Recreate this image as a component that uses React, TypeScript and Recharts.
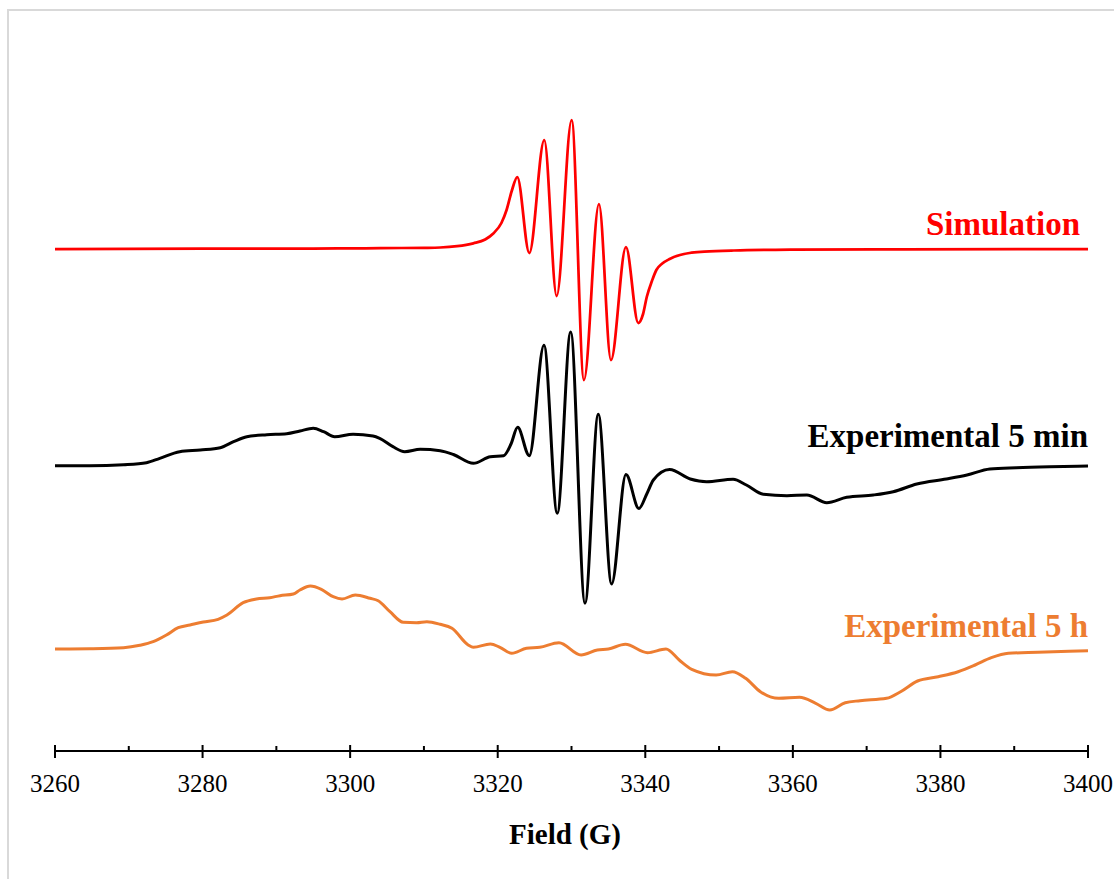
import React from "react";
import { LineChart, Line, XAxis, YAxis } from "recharts";

// Field positions (G) and first-derivative signal (a.u., relative to each trace's baseline)
const simField = [
  3260, 3280, 3295, 3302, 3307, 3310, 3312.2, 3314.5, 3316.7, 3318.3, 3319.4,
  3320.5, 3321.2, 3321.9, 3322.65, 3324.28, 3326.31, 3327.99, 3330.02, 3331.69,
  3333.72, 3335.35, 3337.38, 3339.05, 3339.7, 3340.2, 3340.9, 3341.5, 3342.3,
  3343.3, 3344.7, 3346, 3348, 3352, 3360, 3375, 3400,
];
const simSignal = [
  0, 0.3, 0.5, 0.7, 1.0, 1.2, 1.5, 2.8, 5.7, 9.5, 15.5, 26, 39, 58, 72, -4, 109,
  -47, 129, -131, 45, -111, 2, -74, -65, -48, -32, -21, -14.5, -10, -6, -4,
  -2.7, -1.5, -0.7, -0.3, 0,
];

const min5Field = [
  3260, 3264.7, 3269.3, 3272.4, 3274.2, 3276.9, 3279.7, 3282.4, 3284.2, 3286.0,
  3288.7, 3291.4, 3293.2, 3295.0, 3296.4, 3297.9, 3300.4, 3303.1, 3304.0,
  3305.8, 3307.4, 3309.5, 3312.2, 3314.0, 3316.7, 3319.0, 3320.8, 3321.8,
  3322.7, 3324.28, 3326.27, 3328.07, 3329.89, 3331.83, 3333.63, 3335.44,
  3337.38, 3339.14, 3340.2, 3341.1, 3343.3, 3346.1, 3348.3, 3351.9, 3353.7,
  3356.0, 3359.2, 3361.9, 3364.6, 3367.3, 3370.9, 3373.6, 3376.8, 3380.8,
  3383.6, 3386.7, 3390.3, 3394.8, 3400,
];
const min5Signal = [
  0.3, 0.3, 1.3, 3.3, 7.7, 14.3, 16, 18.3, 24.3, 29.3, 31.3, 32.3, 35, 37.7,
  34.3, 29.3, 31.7, 30, 27.7, 19.3, 14.3, 16.7, 15.3, 11.5, 2.7, 9.3, 10.3, 22,
  38.7, 10.3, 120.7, -47.3, 134, -137.3, 51.7, -118, -8.5, -42.5, -28, -14,
  -3.5, -13, -15.7, -13.3, -19, -28.3, -29.7, -29, -36.7, -31.3, -29, -25.7,
  -18, -13, -9, -3, -1.7, -0.7, 0,
];

const h5Field = [
  3260, 3264.7, 3269.3, 3271.5, 3273.3, 3275.1, 3276.7, 3278.3, 3280.1, 3282.1,
  3283.3, 3285.5, 3287.3, 3289.1, 3290.5, 3292.3, 3293.2, 3294.6, 3296.1,
  3297.7, 3298.9, 3300.7, 3302.7, 3303.8, 3305.4, 3307.2, 3309.0, 3310.4,
  3312.2, 3313.8, 3316.0, 3316.7, 3319.0, 3320.3, 3321.9, 3323.9, 3325.7,
  3328.3, 3331.3, 3333.5, 3335.0, 3337.3, 3340.3, 3342.8, 3344.6, 3346.3,
  3349.6, 3351.8, 3353.6, 3355.6, 3358.1, 3360.9, 3363.1, 3365.0, 3367.1,
  3369.1, 3372.7, 3374.6, 3376.9, 3379.7, 3382.4, 3384.7, 3386.9, 3389.2,
  3393.2, 3400,
];
const h5Signal = [
  0, 0.3, 1.3, 3.7, 7.3, 14, 21.3, 24, 27, 29.7, 34, 46.3, 50, 51.3, 53.3, 55,
  59, 63, 59.7, 52.3, 50, 54, 50.7, 48.3, 37.3, 26.7, 26.3, 27.3, 24.7, 20.7, 4,
  1.7, 5, 1.7, -4.3, 0.7, 1.7, 6.3, -6, -1, 0, 4.7, -3.7, 0, -11, -20.3, -26,
  -22.7, -29.3, -42.7, -49.3, -48.3, -54.3, -61, -53.7, -51.7, -49.3, -42.7,
  -32, -27.7, -22.7, -16, -8.7, -4.3, -3.3, -1.7,
];

// vertical stacking offsets: simulation, 5 min, 5 h
const traceBaselines = [502, 285, 102];

const fieldTicks = [
  3260, 3270, 3280, 3290, 3300, 3310, 3320, 3330, 3340, 3350, 3360, 3370, 3380,
  3390, 3400,
];

const build = (field: number[], signal: number[], base: number) =>
  field.map((f, i) => ({ field: f, signal: signal[i] + base }));

const simData = build(simField, simSignal, traceBaselines[0]);
const min5Data = build(min5Field, min5Signal, traceBaselines[1]);
const h5Data = build(h5Field, h5Signal, traceBaselines[2]);

const serif = '"Liberation Serif", "Times New Roman", Times, serif';
const ORANGE = "#ED7D31";

const FieldTick = (props: any) => {
  const { x, y, payload } = props;
  const major = payload.value % 20 === 0;
  return (
    <g>
      <line
        x1={x}
        x2={x}
        y1={major ? y - 6 : y - 5}
        y2={major ? y + 7 : y}
        stroke="#000"
        strokeWidth={2}
      />
      {major && (
        <text
          x={x}
          y={y + 41}
          textAnchor="middle"
          fontSize={25}
          fontFamily={serif}
          fill="#000"
        >
          {payload.value}
        </text>
      )}
    </g>
  );
};

export default function App() {
  return (
    <div style={{ position: "relative", width: 1106, height: 862 }}>
      <style>{`
        html, body, #root { overflow: visible !important; }
        .recharts-wrapper, .recharts-surface { overflow: visible !important; }
      `}</style>
      <div
        style={{
          position: "absolute",
          left: -1,
          top: 1,
          width: 1107,
          height: 870,
          boxSizing: "border-box",
          borderLeft: "2px solid #d9d9d9",
          borderTop: "2px solid #d9d9d9",
        }}
      />
      <div style={{ position: "absolute", left: 0, top: 0 }}>
        <LineChart
          width={1106}
          height={862}
          margin={{ top: 43, right: 26, bottom: 79, left: 47 }}
        >
          <XAxis
            dataKey="field"
            type="number"
            domain={[3260, 3400]}
            ticks={fieldTicks}
            interval={0}
            allowDataOverflow
            height={40}
            tickSize={0}
            tickMargin={0}
            tickLine={false}
            axisLine={{ stroke: "#000", strokeWidth: 2 }}
            tick={<FieldTick />}
          />
          <YAxis hide type="number" domain={[0, 700]} allowDataOverflow />
          <Line
            data={h5Data}
            dataKey="signal"
            type="monotone"
            stroke={ORANGE}
            strokeWidth={3}
            dot={false}
            activeDot={false}
            isAnimationActive={false}
          />
          <Line
            data={min5Data}
            dataKey="signal"
            type="monotone"
            stroke="#000"
            strokeWidth={3}
            dot={false}
            activeDot={false}
            isAnimationActive={false}
          />
          <Line
            data={simData}
            dataKey="signal"
            type="monotone"
            stroke="#FF0000"
            strokeWidth={2.75}
            dot={false}
            activeDot={false}
            isAnimationActive={false}
          />
        </LineChart>
      </div>
      <svg
        width={1106}
        height={862}
        style={{ position: "absolute", left: 0, top: 0, pointerEvents: "none" }}
      >
        <g fontFamily={serif} fontWeight="bold" fontSize={33} textAnchor="end">
          <text x={1072} y={227} fill="#FF0000">
            Simulation
          </text>
          <text x={1080} y={439} fill="#000">
            Experimental 5 min
          </text>
          <text x={1080} y={629} fill={ORANGE}>
            Experimental 5 h
          </text>
        </g>
        <text
          x={557}
          y={836}
          textAnchor="middle"
          fontFamily={serif}
          fontWeight="bold"
          fontSize={29}
          fill="#000"
        >
          Field (G)
        </text>
      </svg>
    </div>
  );
}
